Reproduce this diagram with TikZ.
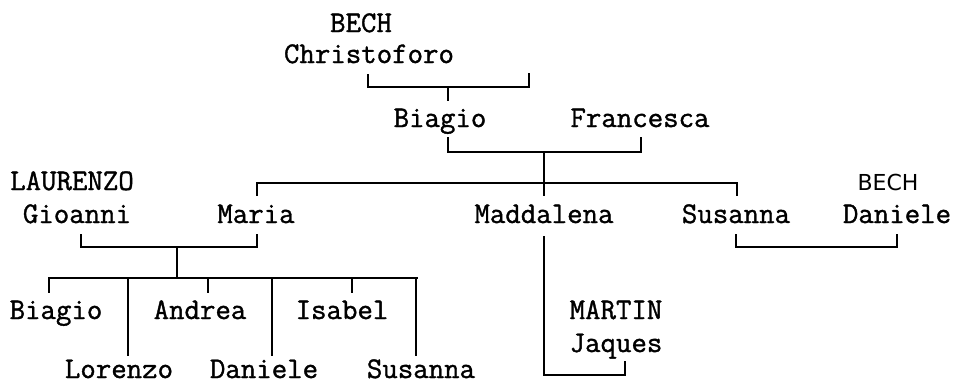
\documentclass[tikz,border=0pt]{standalone}
\usepackage{fontspec}
\newfontfamily\sansf{DejaVu Sans}
\newfontfamily\monof{Latin Modern Mono}[FakeBold=1.2]
\begin{document}
\begin{tikzpicture}[x=1pt,y=-1pt,
  person/.style={font=\monof\fontsize{30}{30}\selectfont, inner sep=0pt, anchor=base},
  sperson/.style={font=\sansf\fontsize{22}{22}\selectfont, inner sep=0pt, anchor=base},
  link/.style={line width=1.4pt, line cap=rect}]
\useasboundingbox (0,0) rectangle (953,384);
% names
\node[person] (bechA) at (361,32) {BECH};
\node[person] (chris) at (369,63) {Christoforo};
\node[person] (biagioA) at (440,127) {Biagio};
\node[person] (franc) at (640,127) {Francesca};
\node[person] (laur) at (72,190) {LAURENZO};
\node[sperson] (bechB) at (888,190) {BECH};
\node[person] (gio) at (77,223) {Gioanni};
\node[person] (maria) at (256,223) {Maria};
\node[person] (madd) at (544,223) {Maddalena};
\node[person] (susA) at (736,223) {Susanna};
\node[person] (danA) at (897,223) {Daniele};
\node[person] (biagioB) at (56,319) {Biagio};
\node[person] (andrea) at (200,319) {Andrea};
\node[person] (isabel) at (342,319) {Isabel};
\node[person] (martin) at (616,319) {MARTIN};
\node[person] (jaques) at (616,352) {Jaques};
\node[person] (lor) at (119,378) {Lorenzo};
\node[person] (danB) at (264,378) {Daniele};
\node[person] (susB) at (421,378) {Susanna};
% coordinates
\coordinate (c1) at (368,75);
\coordinate (c2) at (529,74);
\coordinate (c1d) at (448,100);
\coordinate (f1) at (448,138);
\coordinate (f2) at (641,138);
\coordinate (fd) at (544,152);
\coordinate (bar1L) at (257,195);
\coordinate (bar1R) at (737,195);
\coordinate (g1) at (81,235);
\coordinate (g2) at (257,235);
\coordinate (gd) at (177,247);
\coordinate (s1) at (736,235);
\coordinate (s2) at (897,235);
\coordinate (m1) at (544,237);
\coordinate (m2) at (625,362);
% Christoforo couple
\draw[link] (c1) -- (368,87) -- (529,87) -- (c2);
\draw[link] (448,87) -- (c1d);
% Biagio - Francesca
\draw[link] (f1) -- (448,152) -- (641,152) -- (f2);
\draw[link] (fd) -- (544,195);
\draw[link] (bar1L) -- (257,183) -- (737,183) -- (bar1R);
% Gioanni - Maria
\draw[link] (g1) -- (81,247) -- (257,247) -- (g2);
\draw[link] (gd) -- (177,278);
\draw[link] (49,292) -- (49,278) -- (417,278);
\draw[link] (208,278) -- (208,292);
\draw[link] (352,278) -- (352,292);
\draw[link] (128,278) -- (128,355);
\draw[link] (272,278) -- (272,355);
\draw[link] (416,278) -- (416,355);
% Maddalena - Martin
\draw[link] (m1) -- (544,375) -- (625,375) -- (m2);
% Susanna - Daniele
\draw[link] (s1) -- (736,247) -- (897,247) -- (s2);
\end{tikzpicture}
\end{document}
